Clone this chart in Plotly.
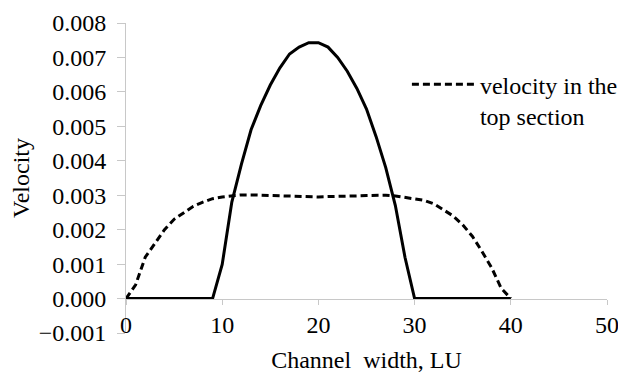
import plotly.graph_objects as go

# Channel width positions (LU)
x_solid = list(range(0, 41))
v_solid = [0, 0, 0, 0, 0, 0, 0, 0, 0, 0,
           0.00099, 0.0028, 0.0039, 0.0049, 0.0056, 0.0062, 0.0067, 0.0071, 0.0073, 0.00743,
           0.00743, 0.0073, 0.0070, 0.0066, 0.0061, 0.0055, 0.0047, 0.0038, 0.0027, 0.0012,
           0, 0, 0, 0, 0, 0, 0, 0, 0, 0, 0]

x_top = list(range(0, 41))
v_top = [0, 0.0004, 0.0012, 0.0016, 0.0020, 0.0023, 0.0025, 0.00268, 0.0028, 0.0029,
         0.00295, 0.00299, 0.00301, 0.00301, 0.0030, 0.00299, 0.00298, 0.00297, 0.00296, 0.00296,
         0.00295, 0.00296, 0.00296, 0.00297, 0.00298, 0.00299, 0.0030, 0.0030, 0.00298, 0.00294,
         0.0029, 0.00285, 0.00275, 0.00258, 0.0024, 0.00214, 0.00181, 0.00137, 0.0009, 0.0003,
         0]

legend_label = "velocity in the<br>top section"
x_title = "Channel\u00a0 width, LU"
y_title = "Velocity"

FONT = "Liberation Serif"
GRAY = "#c8c8c8"
fnt = dict(family=FONT, size=24, color="black")

fig = go.Figure()
fig.add_trace(go.Scatter(x=x_solid, y=v_solid, mode="lines",
                         line=dict(color="black", width=3), showlegend=False))
fig.add_trace(go.Scatter(x=x_top, y=v_top, mode="lines", name=legend_label,
                         line=dict(color="black", width=3, dash="7px,4px"), showlegend=True))

ymin, ymax = -0.001, 0.008
fig.update_layout(
    width=618, height=374,
    margin=dict(l=126, r=11, t=23, b=41, autoexpand=False),
    paper_bgcolor="white", plot_bgcolor="white",
    font=fnt,
    legend=dict(x=0.584, y=0.874, xanchor="left", yanchor="top",
                bgcolor="rgba(0,0,0,0)", valign="top", itemwidth=63,
                font=dict(family=FONT, size=24, color="black")),
    xaxis=dict(range=[0, 50], dtick=10, showgrid=False, zeroline=False,
               showline=True, linecolor=GRAY, linewidth=1,
               ticks="outside", ticklen=5, tickcolor=GRAY,
               tickfont=fnt, ticklabeloverflow="allow",
               anchor="free", position=(0 - ymin) / (ymax - ymin),
               title=dict(text=x_title, standoff=13, font=fnt),
               automargin=False),
    yaxis=dict(range=[ymin, ymax], dtick=0.001, tickformat=".3f",
               showgrid=False, zeroline=False,
               showline=True, linecolor=GRAY, linewidth=1,
               ticks="outside", ticklen=8, tickcolor=GRAY,
               tickfont=fnt,
               ticklabelstandoff=6,
               title=dict(text=y_title, standoff=2, font=fnt),
               automargin=False),
)

fig.write_html("out.html")
